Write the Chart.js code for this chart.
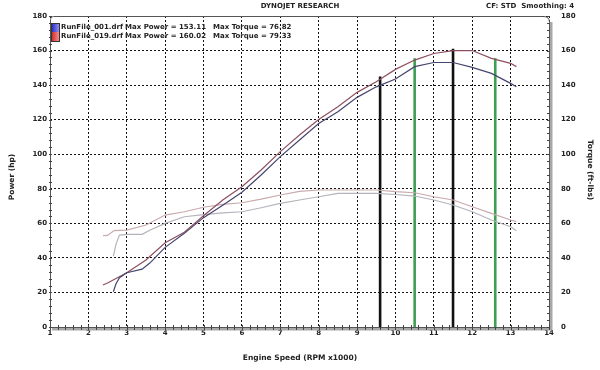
<!DOCTYPE html>
<html>
<head>
<meta charset="utf-8">
<script src="https://cdn.jsdelivr.net/npm/chart.js@4"></script>
<style>
  html, body { margin: 0; padding: 0; background: #fff; }
</style>
</head>
<body>
<canvas id="dyno" width="600" height="370"></canvas>
<script>
// RunFile_001 samples (rpm x1000, hp, ft-lbs)
const rpm001 = [2.65, 2.72, 2.81, 3.0, 3.4, 3.6, 4.0, 4.5, 5.0, 5.5, 6.0, 6.5, 7.0, 7.5, 8.0, 8.5, 9.0, 9.5, 10.0, 10.5, 11.0, 11.5, 12.0, 12.5, 13.0, 13.15];
const power001 = [20.4, 25, 28.5, 31.4, 33.5, 37, 46.1, 54.2, 63.3, 70.5, 78, 88, 98.6, 108.2, 117.8, 124.6, 132.9, 139, 143.5, 150.7, 153.1, 153.1, 150.3, 146.8, 141, 139];
const torque001 = [41, 48, 53.2, 53.6, 53.6, 56, 60, 63.8, 65, 66, 66.7, 69, 71.6, 73.5, 75.4, 77.3, 77.3, 77.3, 76.7, 75.8, 73.5, 70.6, 66.7, 61.9, 58, 55.7];

// RunFile_019 samples
const rpm019 = [2.38, 2.5, 2.67, 3.0, 3.5, 4.0, 4.5, 5.0, 5.5, 6.0, 6.5, 7.0, 7.5, 8.0, 8.5, 9.0, 9.5, 10.0, 10.5, 11.0, 11.5, 12.0, 12.5, 13.0, 13.15];
const power019 = [24.3, 25.5, 27.5, 31.4, 38.8, 48.8, 54.8, 64.4, 73.5, 81.2, 90.9, 101.5, 111.1, 120.1, 127.5, 135.8, 142, 149.1, 154.5, 158.3, 160, 160, 155.5, 152.6, 150.7];
const torque019 = [52.9, 53, 55.8, 56.1, 59, 64.8, 66.7, 69.3, 71, 71.9, 74, 76.4, 78.5, 79.3, 79.3, 79.3, 79.3, 78.3, 77.7, 75.4, 73.5, 69.6, 65.8, 61.9, 61];

// cursor lines
const cursorRpm = [9.6, 10.5, 11.5, 12.6];
const cursorTop = [145, 155.5, 161, 155.5];

const legendRows = [
  ['RunFile_001.drf', 'Max Power = 153.11', 'Max Torque = 76.82'],
  ['RunFile_019.drf', 'Max Power = 160.02', 'Max Torque = 79.33']
];

const pts = (xs, ys) => xs.map((x, i) => ({ x: x, y: ys[i] }));

const cursorColors = ['#111', '#3e9e52', '#111', '#3e9e52'];
const cursorSets = cursorRpm.map((r, i) => ({
  label: 'cursor' + i,
  data: [{ x: r, y: 0 }, { x: r, y: cursorTop[i] }],
  borderColor: cursorColors[i],
  borderWidth: 2.6,
  pointRadius: 0,
  yAxisID: 'y'
}));

const fontFam = '"DejaVu Sans", Verdana, sans-serif';

const decor = {
  id: 'decor',
  beforeDatasetsDraw(chart) {
    const c = chart.ctx, a = chart.chartArea;
    const x = chart.scales.x, y = chart.scales.y;
    c.save();
    // shadow
    c.strokeStyle = '#a8a8a8';
    c.lineWidth = 3;
    c.beginPath();
    c.moveTo(a.left + 2, a.bottom + 2);
    c.lineTo(a.right + 2, a.bottom + 2);
    c.lineTo(a.right + 2, a.top + 6);
    c.stroke();
    // frame
    c.strokeStyle = '#555';
    c.lineWidth = 1;
    c.beginPath();
    c.moveTo(a.left + 0.5, a.bottom + 0.5);
    c.lineTo(a.left + 0.5, a.top + 3.5);
    c.quadraticCurveTo(a.left + 0.5, a.top + 0.5, a.left + 3.5, a.top + 0.5);
    c.lineTo(a.right - 5.5, a.top + 0.5);
    c.quadraticCurveTo(a.right + 0.5, a.top + 0.5, a.right + 0.5, a.top + 6.5);
    c.lineTo(a.right + 0.5, a.bottom + 0.5);
    c.lineTo(a.left + 0.5, a.bottom + 0.5);
    c.stroke();
    // minor ticks
    c.strokeStyle = '#444';
    c.beginPath();
    for (let r = 1; r <= 14.001; r += 0.2) {
      const px = Math.round(x.getPixelForValue(r)) + 0.5;
      c.moveTo(px, a.bottom - 2);
      c.lineTo(px, a.bottom + 3);
    }
    for (let v = 0; v <= 180; v += 4) {
      const py = Math.round(y.getPixelForValue(v)) + 0.5;
      c.moveTo(a.left - 1, py);
      c.lineTo(a.left + 2, py);
      c.moveTo(a.right - 2, py);
      c.lineTo(a.right + 1, py);
    }
    c.stroke();
    c.restore();
  },
  afterDraw(chart) {
    const c = chart.ctx, a = chart.chartArea;
    c.save();
    c.fillStyle = '#222';
    c.font = 'bold 7px ' + fontFam;
    c.textBaseline = 'middle';
    c.textAlign = 'center';
    c.fillText('DYNOJET RESEARCH', 300, 6);
    c.textAlign = 'left';
    c.fillText('CF: STD  Smoothing: 4', 486, 6);

    // legend swatches
    const g1 = c.createLinearGradient(a.left + 1, 0, a.left + 9, 0);
    g1.addColorStop(0, '#2020c8'); g1.addColorStop(1, '#9090e8');
    c.fillStyle = g1;
    c.fillRect(a.left + 1, 23, 8, 9);
    const g2 = c.createLinearGradient(a.left + 1, 0, a.left + 9, 0);
    g2.addColorStop(0, '#d02020'); g2.addColorStop(1, '#f09090');
    c.fillStyle = g2;
    c.fillRect(a.left + 1, 32, 8, 9);
    c.strokeStyle = '#333';
    c.strokeRect(a.left + 1.5, 23.5, 8, 18);

    c.fillStyle = '#222';
    c.font = 'bold 7px ' + fontFam;
    legendRows.forEach((row, i) => {
      const ty = 27.5 + i * 9;
      c.fillText(row[0], 61, ty);
      c.fillText(row[1], 125, ty);
      c.fillText(row[2], 213, ty);
    });

    // axis titles
    c.font = 'bold 7.5px ' + fontFam;
    c.textAlign = 'center';
    c.fillText('Engine Speed (RPM x1000)', 300, 358);
    c.save();
    c.translate(12, 177);
    c.rotate(-Math.PI / 2);
    c.fillText('Power (hp)', 0, 0);
    c.restore();
    c.save();
    c.translate(590, 170);
    c.rotate(Math.PI / 2);
    c.fillText('Torque (ft-lbs)', 0, 0);
    c.restore();
    c.restore();
  }
};

const tickFont = { family: fontFam, size: 7, weight: 'bold' };

new Chart(document.getElementById('dyno'), {
  type: 'line',
  data: {
    datasets: [
      { label: 'Power 001', data: pts(rpm001, power001), borderColor: '#45456e', borderWidth: 1.2, pointRadius: 0, yAxisID: 'y' },
      { label: 'Power 019', data: pts(rpm019, power019), borderColor: '#8e5060', borderWidth: 1.2, pointRadius: 0, yAxisID: 'y' },
      { label: 'Torque 001', data: pts(rpm001, torque001), borderColor: '#b4b4bc', borderWidth: 1.2, pointRadius: 0, yAxisID: 'y2' },
      { label: 'Torque 019', data: pts(rpm019, torque019), borderColor: '#c8aaae', borderWidth: 1.2, pointRadius: 0, yAxisID: 'y2' },
      ...cursorSets
    ]
  },
  options: {
    responsive: false,
    animation: false,
    devicePixelRatio: 1,
    layout: { padding: { top: 16, left: 0, right: 0, bottom: 0 } },
    plugins: { legend: { display: false }, tooltip: { enabled: false } },
    elements: { line: { tension: 0 } },
    scales: {
      x: {
        type: 'linear', min: 1, max: 14,
        ticks: { stepSize: 1, font: tickFont, color: '#222', padding: 2 },
        grid: { color: '#111', drawTicks: false, lineWidth: 1 },
        border: { display: false, dash: [2, 2] },
        afterFit(s) { s.height = 43; }
      },
      y: {
        position: 'left', min: 0, max: 180,
        ticks: { stepSize: 20, font: tickFont, color: '#222', padding: 3 },
        grid: { color: '#111', drawTicks: false, lineWidth: 1 },
        border: { display: false, dash: [2, 2] },
        afterFit(s) { s.width = 50; }
      },
      y2: {
        position: 'right', min: 0, max: 180,
        ticks: { stepSize: 20, font: tickFont, color: '#222', padding: 4 },
        grid: { display: false },
        border: { display: false },
        afterFit(s) { s.width = 51; }
      }
    }
  },
  plugins: [decor]
});
</script>
</body>
</html>
